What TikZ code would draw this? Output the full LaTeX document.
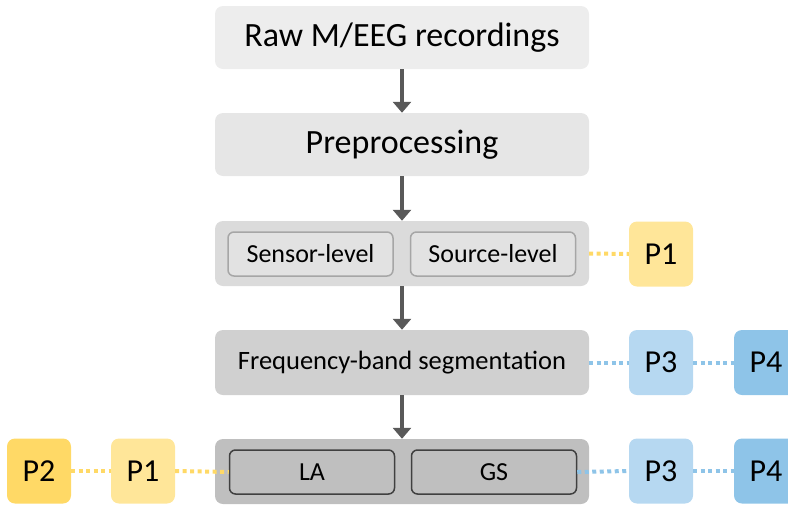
\documentclass[tikz,border=0pt]{standalone}
\usepackage{fontspec}
\setmainfont{Carlito}
\usetikzlibrary{arrows.meta}
\definecolor{arrowgray}{HTML}{595959}
\definecolor{rawfill}{HTML}{EDEDED}
\definecolor{prefill}{HTML}{E6E6E6}
\definecolor{conta}{HTML}{DBDBDB}
\definecolor{innera}{HTML}{E2E2E2}
\definecolor{innerabord}{HTML}{A6A6A6}
\definecolor{freqfill}{HTML}{D0D0D0}
\definecolor{contb}{HTML}{BFBFBF}
\definecolor{innerbbord}{HTML}{404040}
\definecolor{ylight}{HTML}{FFE699}
\definecolor{ydark}{HTML}{FFD966}
\definecolor{blight}{HTML}{B6D8F1}
\definecolor{bdark}{HTML}{8EC4E8}
\definecolor{bdot}{HTML}{8EC4E8}
\tikzset{
  x=1pt,y=-1pt,
  bigbox/.style={rectangle,rounded corners=8pt,minimum width=374pt,inner sep=0pt,text=black},
  innerbox/.style={rectangle,rounded corners=6pt,minimum width=165pt,minimum height=44pt,inner sep=0pt,line width=1.5pt},
  pbox/.style={rectangle,rounded corners=8pt,minimum width=64pt,minimum height=65pt,inner sep=0pt,font=\fontsize{32}{38}\selectfont},
  arr/.style={draw=arrowgray,line width=3.5pt,-{Triangle[width=18pt,length=11pt]}},
  ydots/.style={draw=ydark,line width=4pt,dash pattern=on 4pt off 3.5pt},
  bdots/.style={draw=bdot,line width=4pt,dash pattern=on 4pt off 3.5pt},
}
\begin{document}
\begin{tikzpicture}
\useasboundingbox (0,0) rectangle (788,504);
\clip (0,0) rectangle (788,504);
% main column
\node[bigbox,fill=rawfill,minimum height=63pt,font=\fontsize{34}{40}\selectfont] (raw) at (402,37.5) {Raw M/EEG recordings};
\node[bigbox,fill=prefill,minimum height=63pt,font=\fontsize{34}{40}\selectfont] (pre) at (402,144.5) {Preprocessing};
\node[bigbox,fill=conta,minimum height=65pt] (lvl) at (402,253.5) {};
\node[innerbox,fill=innera,draw=innerabord,font=\fontsize{26}{30}\selectfont] (sensor) at (310.5,254) {Sensor-level};
\node[innerbox,fill=innera,draw=innerabord,font=\fontsize{26}{30}\selectfont] (source) at (493,254) {Source-level};
\node[bigbox,fill=freqfill,minimum height=65pt,font=\fontsize{26.5}{31}\selectfont] (freq) at (402,362.5) {Frequency-band segmentation};
\node[bigbox,fill=contb,minimum height=65pt] (net) at (402,471.5) {};
\node[innerbox,fill=contb,draw=innerbbord,font=\fontsize{26}{30}\selectfont] (la) at (312,472) {LA};
\node[innerbox,fill=contb,draw=innerbbord,font=\fontsize{26}{30}\selectfont] (gs) at (494,472) {GS};
% P boxes
\node[pbox,fill=ylight] (pa) at (661,254) {P1};
\node[pbox,fill=blight] (pb) at (661,362.5) {P3};
\node[pbox,fill=bdark] (pc) at (766,362.5) {P4};
\node[pbox,fill=ydark] (pd) at (39,471) {P2};
\node[pbox,fill=ylight] (pe) at (143,471) {P1};
\node[pbox,fill=blight] (pf) at (661,471) {P3};
\node[pbox,fill=bdark] (pg) at (766,471) {P4};
% arrows
\draw[arr] (raw) -- (pre);
\draw[arr] (pre) -- (lvl);
\draw[arr] (lvl) -- (freq);
\draw[arr] (freq) -- (net);
% dotted connectors
\draw[ydots] (lvl.east) -- (pa.west);
\draw[bdots] (freq.east) -- (pb.west);
\draw[bdots] (pb.east) -- (pc.west);
\draw[ydots] (pd.east) -- (pe.west);
\draw[ydots] (pe.east) -- (la.west);
\draw[bdots] (gs.east) -- (pf.west);
\draw[bdots] (pf.east) -- (pg.west);
\end{tikzpicture}
\end{document}
